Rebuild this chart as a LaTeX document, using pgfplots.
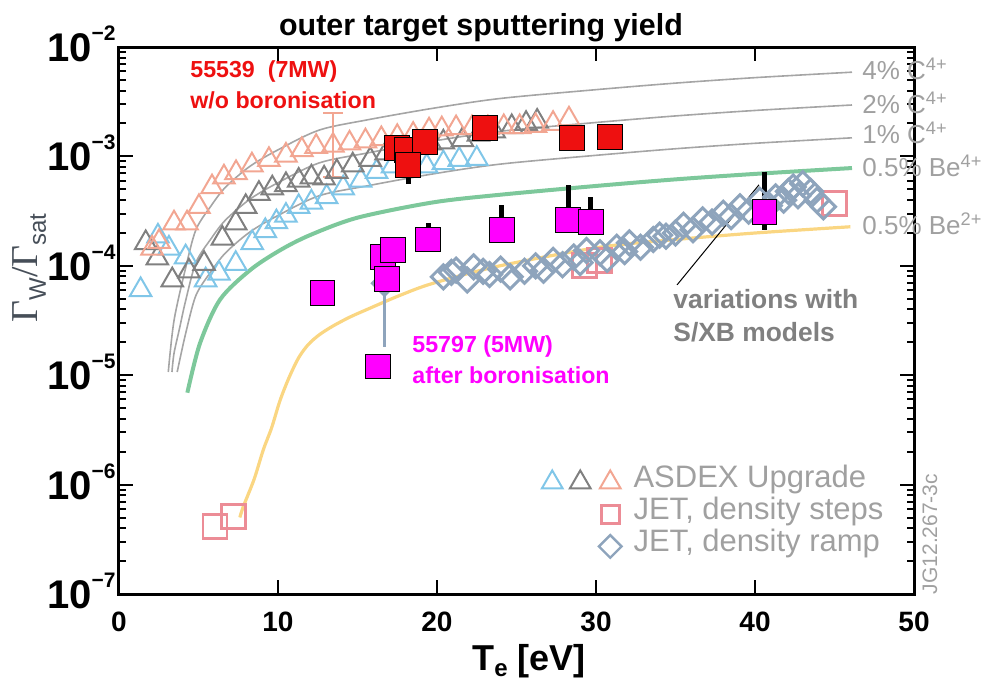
\documentclass[border=0pt]{standalone}
\usepackage{fontspec}
\setmainfont{Liberation Sans}
\newfontfamily\gammafont{Liberation Serif}
\usepackage{pgfplots}
\pgfplotsset{compat=1.18}

\definecolor{salmon}{RGB}{242,166,146}
\definecolor{trigray}{RGB}{128,128,128}
\definecolor{triblue}{RGB}{128,198,232}
\definecolor{slate}{RGB}{142,164,188}
\definecolor{jetpink}{RGB}{236,140,150}
\definecolor{modelgray}{RGB}{165,165,165}
\definecolor{begreen}{RGB}{125,200,155}
\definecolor{beyellow}{RGB}{250,214,130}
\definecolor{labelgray}{RGB}{160,160,160}
\definecolor{notegray}{RGB}{128,128,128}
\definecolor{ylab}{RGB}{70,78,88}
\definecolor{shotred}{RGB}{238,16,16}
\definecolor{shotmag}{RGB}{255,0,255}

\newcommand{\fs}[1]{\fontsize{#1}{#1}\selectfont}
\newcommand{\ytl}[1]{\textbf{10}\raisebox{10.5pt}{\fs{10.5}\bfseries −#1}}

\begin{document}
\begin{tikzpicture}
\begin{axis}[
  scale only axis, width=397.5pt, height=273.5pt,
  xmin=0, xmax=50, ymode=log, ymin=1e-7, ymax=1e-2,
  clip=false,
  axis line style={line width=1.5pt},
  tick style={black, line width=1pt},
  major tick length=7pt, minor tick length=3.5pt,
  xtick={0,10,20,30,40,50}, xticklabels={0,10,20,30,40,50},
  xticklabel style={font=\fs{14}\bfseries, inner sep=0pt, yshift=-9pt},
  ytick={1e-7,1e-6,1e-5,1e-4,1e-3,1e-2},
  yticklabels={\ytl{7},\ytl{6},\ytl{5},\ytl{4},\ytl{3},\ytl{2}},
  yticklabel style={font=\fs{20}, inner sep=0pt, anchor=base east, xshift=-1.5pt, yshift=-7.2pt},
  legend style={draw=none, fill=none, inner sep=0pt, at={(0.962,0.234)}, anchor=north east,
    font=\fs{15.5}, text=labelgray, row sep=0pt,
    nodes={inner sep=0pt, text height=10.5pt, text depth=5.5pt},
    /tikz/every odd column/.append style={column sep=6pt}},
  legend cell align=left,
]
% legend entries first
\addlegendimage{legend image code/.code={
  \draw[triblue, line width=1pt] plot[only marks, mark=triangle, mark size=6pt] coordinates {(-29pt,0pt)};
  \draw[trigray, line width=1pt] plot[only marks, mark=triangle, mark size=6pt] coordinates {(-15pt,0pt)};
  \draw[salmon, line width=1pt] plot[only marks, mark=triangle, mark size=6pt] coordinates {(0pt,0pt)};}}
\addlegendentry{ASDEX Upgrade}
\addlegendimage{legend image code/.code={
  \draw[jetpink, line width=1.3pt] plot[only marks, mark=square, mark size=4.5pt] coordinates {(0pt,0pt)};}}
\addlegendentry{JET, density steps}
\addlegendimage{legend image code/.code={
  \draw[slate, line width=1.2pt] plot[only marks, mark=square, mark size=4pt, mark options={rotate=45}] coordinates {(0pt,0pt)};}}
\addlegendentry{JET, density ramp}

% model curves
\addplot[modelgray, line width=0.8pt, smooth] coordinates {
(3.10,1.07e-5)(3.46,3.16e-5)(4.19,9.55e-5)(4.84,2.14e-4)(5.8,3.55e-4)(6.71,5.25e-4)
(8.24,8.13e-4)(10,1.148e-3)(12.58,1.738e-3)(15.58,2.153e-3)(19.75,2.754e-3)(24,3.388e-3)
(30,4.074e-3)(35,4.677e-3)(40,5.248e-3)(46.1,5.888e-3)};
\addplot[modelgray, line width=0.8pt, smooth] coordinates {
(3.33,1.07e-5)(3.46,1.585e-5)(3.8,2.65e-5)(4.19,4.79e-5)(4.84,1.072e-4)(5.8,1.778e-4)
(6.71,2.63e-4)(8.24,4.07e-4)(10,5.75e-4)(12.58,8.71e-4)(15.58,1.072e-3)(19.75,1.380e-3)
(24,1.698e-3)(30,2.042e-3)(35,2.344e-3)(40,2.630e-3)(46.1,2.951e-3)};
\addplot[modelgray, line width=0.8pt, smooth] coordinates {
(3.66,1.07e-5)(4.19,2.40e-5)(4.84,5.37e-5)(5.8,8.91e-5)(6.71,1.318e-4)(8.24,2.042e-4)
(10,2.884e-4)(12.58,4.365e-4)(15.58,5.37e-4)(19.75,6.92e-4)(24,8.51e-4)(30,1.023e-3)
(35,1.175e-3)(40,1.318e-3)(46.1,1.479e-3)};
\addplot[begreen, line width=2pt, smooth] coordinates {
(4.3,6.92e-6)(5.09,1.95e-5)(6.35,4.90e-5)(8.24,9.12e-5)(10.1,1.380e-4)(12,1.905e-4)
(15,2.754e-4)(19.75,3.80e-4)(24,4.467e-4)(30,5.37e-4)(35,6.17e-4)(40,6.92e-4)(46.1,7.83e-4)};
\addplot[beyellow, line width=1.6pt, smooth] coordinates {
(7.6,5.01e-7)(7.82,6.31e-7)(8.5,1.122e-6)(9.08,2.09e-6)(9.6,3.31e-6)(10.13,5.89e-6)
(10.7,9.55e-6)(11.3,1.445e-5)(11.9,1.905e-5)(12.6,2.344e-5)(13.46,2.818e-5)(14.5,3.388e-5)
(15.58,3.98e-5)(17.67,5.37e-5)(19.75,6.92e-5)(23.96,1.0e-4)(30.25,1.479e-4)(35,1.738e-4)
(40,1.995e-4)(46,2.275e-4)};

% ASDEX Upgrade
\addplot[salmon, line width=0.8pt, mark=-, mark size=5pt] coordinates {(13.46,2.49e-3)(13.46,6.49e-4)};
\addplot[only marks, mark=triangle, mark size=6.2pt, triblue, line width=1pt] coordinates {
(1.36,6.03e-5)(2.45,1.862e-4)(3.14,1.445e-4)(4.19,1.202e-4)(5.45,7.41e-5)(6.29,8.51e-5)
(7.34,1.047e-4)(8.38,1.622e-4)(9.2,2.089e-4)(9.9,2.512e-4)(10.5,2.884e-4)(11.3,3.467e-4)
(12.1,3.80e-4)(13.06,4.266e-4)(14.1,5.13e-4)(15.2,6.03e-4)(16.2,7.24e-4)(17.2,8.13e-4)
(18.3,8.13e-4)(19.35,8.13e-4)(20.4,8.71e-4)(21.4,9.33e-4)(22.5,9.55e-4)};
\addplot[only marks, mark=triangle, mark size=6.2pt, trigray, line width=1pt] coordinates {
(1.68,1.622e-4)(2.41,1.175e-4)(3.35,7.41e-5)(4.4,8.91e-5)(5.35,1.047e-4)(6.5,1.778e-4)
(7.34,2.455e-4)(7.97,3.467e-4)(8.8,4.571e-4)(9.64,5.13e-4)(10.5,5.50e-4)(11.3,6.03e-4)
(12.1,6.46e-4)(12.9,6.31e-4)(13.7,7.24e-4)(14.7,8.32e-4)(15.8,9.33e-4)(16.8,1.072e-3)
(17.8,1.175e-3)(18.8,1.259e-3)(19.6,1.318e-3)(20.4,1.349e-3)(21.6,1.413e-3)(22.6,1.585e-3)
(23.6,1.698e-3)(24.7,1.862e-3)(25.6,1.995e-3)(26.3,2.089e-3)};
\addplot[only marks, mark=triangle, mark size=6.2pt, salmon, line width=1pt] coordinates {
(2.08,1.445e-4)(2.52,1.660e-4)(3.46,2.455e-4)(4.28,2.455e-4)(5.03,3.467e-4)(5.85,5.25e-4)
(6.6,6.46e-4)(7.36,7.08e-4)(8.36,8.32e-4)(9.43,9.33e-4)(10.5,1.023e-3)(11.5,1.148e-3)
(12.4,1.230e-3)(13.46,1.259e-3)(14.5,1.318e-3)(15.5,1.380e-3)(16.5,1.445e-3)(17.5,1.514e-3)
(18.5,1.585e-3)(19.5,1.738e-3)(20.3,1.778e-3)(21.2,1.820e-3)(22.2,1.820e-3)(23.2,1.820e-3)
(24.2,1.862e-3)(25.2,1.862e-3)(26.2,1.905e-3)(27.3,1.995e-3)(28.3,2.188e-3)};

% JET density steps
\addplot[only marks, mark=square, mark size=6pt, jetpink, line width=1.4pt] coordinates {
(6.04,4.12e-7)(7.19,5.13e-7)(29.3,1.0e-4)(30.2,1.122e-4)(45.0,3.715e-4)};

% JET density ramp
\addplot[slate, line width=1.5pt] coordinates {(16.7,6.92e-5)(16.7,1.82e-5)};
\addplot[only marks, mark=square, mark size=4.25pt, mark options={rotate=45}, slate, line width=1.5pt] coordinates {
(16.7,6.92e-5)(20.4,7.94e-5)(20.9,8.71e-5)(21.2,9.12e-5)(21.9,7.41e-5)(22.3,9.77e-5)
(22.9,8.91e-5)(23.3,8.32e-5)(24.0,9.33e-5)(24.6,7.94e-5)(25.5,8.91e-5)(26.2,1.0e-4)
(26.7,9.12e-5)(27.3,1.122e-4)(27.9,1.023e-4)(28.6,1.202e-4)(29.0,1.072e-4)(29.4,1.380e-4)
(30.25,1.318e-4)(30.7,1.148e-4)(31.3,1.479e-4)(31.8,1.349e-4)(32.1,1.622e-4)(32.8,1.479e-4)
(33.6,1.738e-4)(34.0,1.905e-4)(34.4,1.862e-4)(35.0,1.995e-4)(35.5,2.344e-4)(36.1,2.138e-4)
(36.7,2.630e-4)(37.3,2.512e-4)(38.0,3.020e-4)(38.5,2.818e-4)(39.05,3.467e-4)(39.6,3.162e-4)
(40.3,3.981e-4)(40.9,3.548e-4)(41.3,4.266e-4)(41.8,3.981e-4)(42.1,4.786e-4)(42.4,5.248e-4)
(42.7,4.365e-4)(43.0,5.623e-4)(43.5,4.786e-4)(43.9,3.981e-4)(44.3,3.467e-4)};

% S/XB pointer
\addplot[black, line width=0.5pt] coordinates {(40.25,5.5e-4)(35.1,6.7e-5)};

% error bars of the shots
\addplot[black, line width=2.5pt] coordinates {(18.2,8.32e-4)(18.2,5.62e-4)};
\addplot[black, line width=2.5pt] coordinates {(30.9,1.514e-3)(30.9,1.94e-3)};
\addplot[black, line width=2.5pt] coordinates {(19.45,1.738e-4)(19.45,2.455e-4)};
\addplot[black, line width=2.5pt] coordinates {(24.07,2.138e-4)(24.07,3.63e-4)};
\addplot[black, line width=2.5pt] coordinates {(28.26,2.63e-4)(28.26,5.50e-4)};
\addplot[black, line width=2.5pt] coordinates {(29.67,2.51e-4)(29.67,4.27e-4)};
\addplot[black, line width=2.5pt] coordinates {(40.6,2.14e-4)(40.6,7.24e-4)};

% 55539, w/o boronisation
\addplot[only marks, mark=square*, mark size=6.2pt, mark options={fill=shotred, draw=black, line width=0.5pt}] coordinates {
(17.47,1.186e-3)(18.1,1.148e-3)(19.25,1.361e-3)(18.2,8.32e-4)(23.0,1.807e-3)(28.5,1.462e-3)(30.9,1.514e-3)};
% 55797, after boronisation
\addplot[only marks, mark=square*, mark size=6.2pt, mark options={fill=shotmag, draw=black, line width=0.5pt}] coordinates {
(12.8,5.62e-5)(16.3,1.20e-5)(16.6,1.20e-4)(16.83,7.59e-5)(17.25,1.396e-4)(19.45,1.738e-4)
(24.07,2.138e-4)(28.26,2.63e-4)(29.67,2.51e-4)(40.6,3.126e-4)};
\end{axis}

% titles and labels
\node[anchor=base, font=\fs{15.2}\bfseries, inner sep=0pt] at (181pt,279.5pt) {outer target sputtering yield};
\node[anchor=base, font=\fs{18}\bfseries, inner sep=0pt] at (205pt,-38pt) {T\raisebox{-3pt}{\fs{12}\bfseries e} [eV]};
\node[anchor=base, rotate=90, text=ylab, inner sep=0pt] at (-40.5pt,163pt)
  {{\gammafont\fs{19}Γ}\raisebox{-4pt}{\fs{12}W}{\gammafont\fs{19}/Γ}\raisebox{-4pt}{\fs{12}sat}};

% curve labels
\begin{scope}[every node/.style={anchor=base west, inner sep=0pt, text=labelgray, font=\fs{13}}]
\node at (371.5pt,257.4pt) {4\% C\textsuperscript{4+}};
\node at (371.5pt,240.4pt) {2\% C\textsuperscript{4+}};
\node at (371.5pt,225.4pt) {1\% C\textsuperscript{4+}};
\node at (371.5pt,208.7pt) {0.5\% Be\textsuperscript{4+}};
\node at (371.5pt,180pt) {0.5\% Be\textsuperscript{2+}};
\end{scope}

% annotations
\begin{scope}[every node/.style={anchor=base west, inner sep=0pt}]
\node[text=shotred, font=\fs{11.6}\bfseries] at (35.5pt,258.5pt) {55539\ \ (7MW)};
\node[text=shotred, font=\fs{11.6}\bfseries] at (35.5pt,243pt) {w/o boronisation};
\node[text=shotmag, font=\fs{11.6}\bfseries] at (146.5pt,121pt) {55797 (5MW)};
\node[text=shotmag, font=\fs{11.6}\bfseries] at (146.5pt,105.5pt) {after boronisation};
\node[text=notegray, font=\fs{13.2}\bfseries] at (277pt,143pt) {variations with};
\node[text=notegray, font=\fs{13.2}\bfseries] at (277pt,126.5pt) {S/XB models};
\end{scope}
\node[rotate=90, text=labelgray, font=\fs{10.5}, inner sep=0pt] at (405.5pt,30pt) {JG12.267-3c};

\pgfresetboundingbox
\path (-59.5pt,-44pt) rectangle (437.5pt,297pt);
\end{tikzpicture}
\end{document}
